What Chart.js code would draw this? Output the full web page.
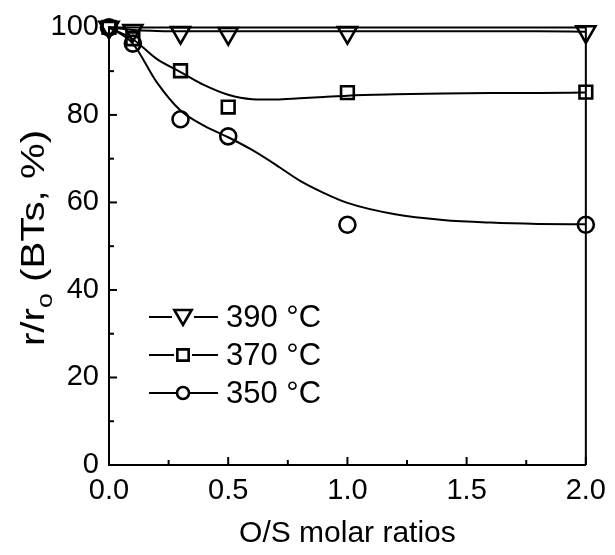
<!DOCTYPE html>
<html>
<head>
<meta charset="utf-8">
<script src="https://cdn.jsdelivr.net/npm/chart.js@4"></script>
<style>
  body { margin: 0; background: #fff; }
  #wrap { width: 615px; height: 555px; }
</style>
</head>
<body>
<div id="wrap"><canvas id="chart" width="615" height="555"></canvas></div>
<script>
// ============================
// Data
// ============================
const ratios = [0, 0.1, 0.3, 0.5, 1.0, 2.0];
const r390 = [100, 99.3, 98.8, 98.6, 98.8, 99.0];
const r370 = [100, 97.4, 90.1, 81.8, 85.1, 85.2];
const r350 = [100, 96.3, 79.0, 75.1, 54.9, 54.9];

// fitted curves as drawn in the figure
const fitX   = [0, 0.1, 0.2, 0.3, 0.4, 0.5, 0.6, 0.7, 0.8, 0.9, 1.0, 1.2, 1.4, 1.6, 1.8, 2.0];
const fit390 = [100, 99.4, 99.2, 99.1, 99.1, 99.1, 99.1, 99.1, 99.1, 99.1, 99.1, 99.1, 99.1, 99.1, 99.1, 99.0];
const fit370 = [100, 97.3, 92.8, 89.8, 86.8, 84.6, 83.6, 83.5, 83.8, 84.1, 84.4, 84.7, 84.9, 85.0, 85.0, 85.1];
const fit350 = [100, 96.3, 87.5, 81.0, 77.5, 74.9, 72.0, 68.6, 65.0, 62.2, 59.9, 57.3, 56.0, 55.4, 55.1, 55.0];

const seriesLabels = ['390 °C', '370 °C', '350 °C'];
const xTitle = 'O/S molar ratios';

const FONT = "'Liberation Sans', Arial, sans-serif";

function pts(xs, ys) {
    return xs.map((x, i) => ({ x: x, y: ys[i] }));
}

function markerSet(label, ys, style, radius, rotation) {
    return {
        label: label,
        data: pts(ratios, ys),
        showLine: false,
        pointStyle: style,
        pointRadius: radius,
        pointRotation: rotation || 0,
        pointBorderWidth: 2.6,
        pointBorderColor: '#000',
        pointBackgroundColor: 'rgba(0,0,0,0)',
        clip: false
    };
}

function fitSet(ys) {
    return {
        data: pts(fitX, ys),
        borderColor: '#000',
        borderWidth: 2,
        pointRadius: 0,
        cubicInterpolationMode: 'monotone',
        clip: false
    };
}

// ============================
// Draw a marker by hand (legend)
// ============================
function marker(ctx, style, x, y, r) {
    ctx.beginPath();
    if (style === 'circle') {
        ctx.arc(x, y, r, 0, Math.PI * 2);
    } else if (style === 'rect') {
        const s = r * Math.SQRT1_2;
        ctx.rect(x - s, y - s, 2 * s, 2 * s);
    } else {
        // downward triangle
        ctx.moveTo(x - r * Math.sin(Math.PI / 3), y - r / 2);
        ctx.lineTo(x + r * Math.sin(Math.PI / 3), y - r / 2);
        ctx.lineTo(x, y + r);
        ctx.closePath();
    }
    ctx.stroke();
}

// ============================
// Frame, inward ticks, legend, y title
// ============================
const decorPlugin = {
    id: 'decor',
    afterDraw(chart) {
        const ctx = chart.ctx;
        const a = chart.chartArea;
        const xs = chart.scales.x, ys = chart.scales.y;
        ctx.save();
        ctx.strokeStyle = '#000';

        // top + right frame
        ctx.lineWidth = 2;
        ctx.beginPath();
        ctx.moveTo(a.left, a.top);
        ctx.lineTo(a.right, a.top);
        ctx.lineTo(a.right, a.bottom);
        ctx.stroke();

        // inward ticks, major + minor halfway between
        ctx.lineWidth = 2;
        const xt = xs.ticks.map(t => t.value);
        xt.forEach((v, i) => {
            const px = xs.getPixelForValue(v);
            ctx.beginPath(); ctx.moveTo(px, a.bottom); ctx.lineTo(px, a.bottom - 8); ctx.stroke();
            if (i < xt.length - 1) {
                const mx = xs.getPixelForValue((v + xt[i + 1]) / 2);
                ctx.beginPath(); ctx.moveTo(mx, a.bottom); ctx.lineTo(mx, a.bottom - 5); ctx.stroke();
            }
        });
        const yt = ys.ticks.map(t => t.value);
        yt.forEach((v, i) => {
            const py = ys.getPixelForValue(v);
            ctx.beginPath(); ctx.moveTo(a.left, py); ctx.lineTo(a.left + 8, py); ctx.stroke();
            if (i < yt.length - 1) {
                const my = ys.getPixelForValue((v + yt[i + 1]) / 2);
                ctx.beginPath(); ctx.moveTo(a.left, my); ctx.lineTo(a.left + 5, my); ctx.stroke();
            }
        });

        // legend
        const styles = ['triangle', 'rect', 'circle'];
        const radii = [11, 9, 7];
        const rows = [317, 355, 393];
        ctx.font = '31px ' + FONT;
        ctx.fillStyle = '#000';
        ctx.textBaseline = 'middle';
        ctx.textAlign = 'left';
        rows.forEach((ry, i) => {
            ctx.lineWidth = 2;
            ctx.beginPath(); ctx.moveTo(149, ry); ctx.lineTo(218, ry); ctx.stroke();
            ctx.lineWidth = 2.6;
            ctx.clearRect(183 - radii[i], ry - radii[i], radii[i] * 2, radii[i] * 2);
            marker(ctx, styles[i], 183, ry + (i === 0 ? -2 : 0), i === 0 ? 10 : radii[i] - 1);
            ctx.fillText(seriesLabels[i], 226, ry + 1);
        });

        // y title with subscript, a bit stretched along the text like the original
        ctx.translate(44, 238);
        ctx.rotate(-Math.PI / 2);
        ctx.scale(1.22, 1);
        const big = '33px ' + FONT, small = '22px ' + FONT;
        const parts = [['r/r', big, 0], ['o', small, 8], [' (BTs, %)', big, 0]];
        let total = 0;
        parts.forEach(p => { ctx.font = p[1]; total += ctx.measureText(p[0]).width; });
        let cx = -total / 2;
        ctx.textBaseline = 'alphabetic';
        parts.forEach(p => {
            ctx.font = p[1];
            ctx.fillText(p[0], cx, p[2]);
            cx += ctx.measureText(p[0]).width;
        });
        ctx.restore();
    }
};

// ============================
// Chart
// ============================
const ctx = document.getElementById('chart').getContext('2d');
new Chart(ctx, {
    type: 'line',
    data: {
        datasets: [
            fitSet(fit390),
            fitSet(fit370),
            fitSet(fit350),
            markerSet(seriesLabels[0], r390, 'triangle', 11, 180),
            markerSet(seriesLabels[1], r370, 'rect', 9),
            markerSet(seriesLabels[2], r350, 'circle', 8)
        ]
    },
    options: {
        responsive: false,
        animation: false,
        layout: { padding: { top: 15, right: 27, left: 0, bottom: 0 } },
        plugins: {
            legend: { display: false },
            tooltip: { enabled: false }
        },
        scales: {
            x: {
                type: 'linear',
                min: 0, max: 2,
                grid: { display: false, drawTicks: false },
                border: { display: true, color: '#000', width: 2 },
                ticks: {
                    stepSize: 0.5,
                    padding: 9,
                    color: '#000',
                    font: { family: FONT, size: 29 },
                    maxRotation: 0,
                    callback: v => v.toFixed(1)
                },
                title: {
                    display: true,
                    text: xTitle,
                    color: '#000',
                    font: { family: FONT, size: 30 },
                    padding: { top: 0, bottom: 3 }
                },
                afterFit: s => { s.height = 90; }
            },
            y: {
                min: 0, max: 100,
                grid: { display: false, drawTicks: false },
                border: { display: true, color: '#000', width: 2 },
                ticks: {
                    stepSize: 20,
                    padding: 10,
                    color: '#000',
                    font: { family: FONT, size: 29 }
                },
                afterFit: s => { s.width = 109; }
            }
        }
    },
    plugins: [decorPlugin]
});
</script>
</body>
</html>
